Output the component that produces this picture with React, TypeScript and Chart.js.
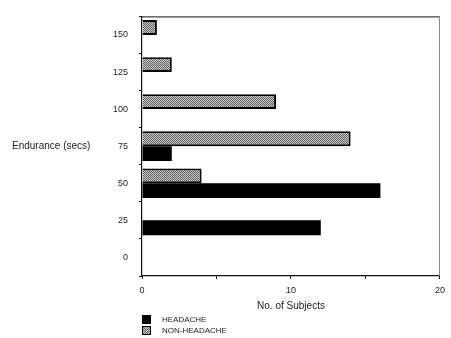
import React, { useEffect, useRef } from 'react';
import { Chart, registerables } from 'chart.js';

Chart.register(...registerables);

const categories = ['150', '125', '100', '75', '50', '25', '0'];
const headache = [0, 0, 0, 2, 16, 12, 0];
const nonHeadache = [1, 2, 9, 14, 4, 0, 0];
const xLabelledTicks = [0, 10, 20];
const yAxisTitle = 'Endurance (secs)';
const xAxisTitle = 'No. of Subjects';
const seriesNames = ['HEADACHE', 'NON-HEADACHE'];

const FONT = "'Liberation Sans', Arial, Helvetica, sans-serif";

function makePattern(): CanvasPattern | string {
  const c = document.createElement('canvas');
  c.width = 2;
  c.height = 2;
  const g = c.getContext('2d');
  if (!g) return '#999';
  g.fillStyle = '#c4c4c4';
  g.fillRect(0, 0, 2, 2);
  g.fillStyle = '#666';
  g.fillRect(0, 0, 1, 1);
  g.fillRect(1, 1, 1, 1);
  return g.createPattern(c, 'repeat') || '#999';
}

export default function App() {
  const ref = useRef<HTMLCanvasElement | null>(null);

  useEffect(() => {
    if (!ref.current) return;
    const pattern = makePattern();

    const decorations = {
      id: 'decorations',
      afterDatasetsDraw(chart: any) {
        const { ctx, chartArea } = chart;
        ctx.save();
        ctx.lineWidth = 1;
        ctx.strokeStyle = '#111';
        ctx.beginPath();
        ctx.moveTo(chartArea.left, chartArea.top + 0.5);
        ctx.lineTo(chartArea.right, chartArea.top + 0.5);
        ctx.stroke();
        ctx.strokeStyle = '#888';
        ctx.beginPath();
        ctx.moveTo(chartArea.right - 0.5, chartArea.top);
        ctx.lineTo(chartArea.right - 0.5, chartArea.bottom);
        ctx.stroke();
        ctx.restore();
      },
      afterDraw(chart: any) {
        const { ctx, chartArea } = chart;
        ctx.save();
        ctx.fillStyle = '#222';
        ctx.font = `10px ${FONT}`;
        ctx.textAlign = 'left';
        ctx.textBaseline = 'middle';
        ctx.fillText(yAxisTitle, 12, (chartArea.top + chartArea.bottom) / 2);
        const fills = ['#000', pattern];
        const boxX = chartArea.left;
        const startY = chartArea.bottom + 39;
        ctx.font = `8px ${FONT}`;
        seriesNames.forEach((name, i) => {
          const y = startY + i * 11;
          ctx.fillStyle = fills[i] as any;
          ctx.fillRect(boxX, y, 9, 9);
          ctx.strokeStyle = '#000';
          ctx.lineWidth = 1;
          ctx.strokeRect(boxX + 0.5, y + 0.5, 8, 8);
          ctx.fillStyle = '#222';
          ctx.fillText(name, boxX + 20, y + 5);
        });
        ctx.restore();
      },
    };

    const chart = new Chart(ref.current, {
      type: 'bar',
      data: {
        labels: categories,
        datasets: [
          {
            label: seriesNames[1],
            data: nonHeadache,
            backgroundColor: pattern as any,
            borderColor: '#000',
            borderWidth: 2,
            barPercentage: 1,
            categoryPercentage: 0.8,
          },
          {
            label: seriesNames[0],
            data: headache,
            backgroundColor: '#000',
            borderWidth: 0,
            barPercentage: 1,
            categoryPercentage: 0.8,
          },
        ],
      },
      options: {
        indexAxis: 'y',
        responsive: false,
        animation: false,
        layout: { padding: { left: 0, top: 14, right: 8, bottom: 26 } },
        plugins: {
          legend: { display: false },
          tooltip: { enabled: false },
        },
        scales: {
          x: {
            type: 'linear',
            min: 0,
            max: 20,
            afterFit(scale: any) {
              scale.height = 36;
            },
            border: { color: '#111', width: 1.2 },
            grid: { drawOnChartArea: false, tickLength: 3, color: '#111' },
            ticks: {
              stepSize: 5,
              padding: 6,
              color: '#222',
              font: { size: 9, family: FONT },
              callback: (v: any) => (xLabelledTicks.includes(Number(v)) ? String(v) : ''),
            },
            title: {
              display: true,
              text: xAxisTitle,
              color: '#222',
              font: { size: 10, family: FONT },
              padding: { top: 0, bottom: 0 },
            },
          },
          y: {
            type: 'category',
            afterFit(scale: any) {
              scale.width = 142;
            },
            border: { color: '#111', width: 1.2 },
            grid: { drawOnChartArea: false, tickLength: 3, color: '#111', offset: true },
            ticks: {
              padding: 11,
              color: '#222',
              font: { size: 9, family: FONT },
            },
          },
        },
      },
      plugins: [decorations],
    });

    return () => chart.destroy();
  }, []);

  return (
    <div style={{ position: 'absolute', left: 0, top: 0, width: 451, height: 338, background: '#fff' }}>
      <canvas ref={ref} width={451} height={338} style={{ display: 'block' }} />
    </div>
  );
}
